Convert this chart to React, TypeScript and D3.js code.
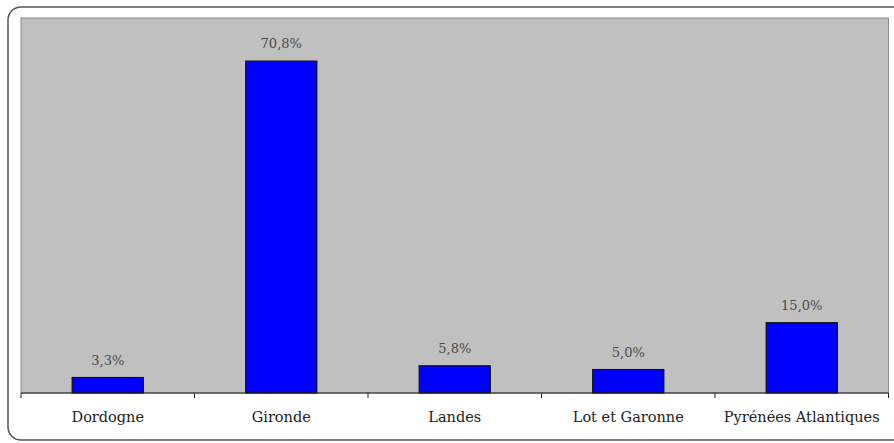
import React from "react";
import * as d3 from "d3";

const categories = ["Dordogne", "Gironde", "Landes", "Lot et Garonne", "Pyrénées Atlantiques"];
const values = [3.3, 70.8, 5.8, 5.0, 15.0];
const valueLabels = ["3,3%", "70,8%", "5,8%", "5,0%", "15,0%"];

export default function App() {
  const W = 894, H = 443;
  const left = 21, right = 888.5, top = 18, bottom = 393;
  const x = d3.scaleBand<string>().domain(categories).range([left, right]).paddingInner(0).paddingOuter(0);
  const y = d3.scaleLinear().domain([0, 80]).range([bottom, top]);
  const bw = x.bandwidth() * 0.41;
  const font = "'DejaVu Serif', 'Liberation Serif', serif";
  return (
    <svg width={W} height={H} style={{ position: "absolute", left: 0, top: 0, background: "#fff" }}>
      <rect x={8} y={7} width={905} height={433} rx={13} ry={13} fill="#fff" stroke="#555" strokeWidth={1.5} />
      <rect x={left} y={top} width={right - left} height={bottom - top} fill="#c0c0c0" stroke="#8a8a8a" strokeWidth={1} />
      {categories.map((c, i) => {
        const cx = (x(c) as number) + x.bandwidth() / 2;
        const yt = y(values[i]);
        return (
          <g key={c}>
            <rect x={cx - bw / 2} y={yt} width={bw} height={bottom - yt} fill="#0000ff" stroke="#111" strokeWidth={1.2} />
            <text x={cx} y={yt - 13} textAnchor="middle" fontFamily={font} fontSize={13} fill="#4a4a4a">{valueLabels[i]}</text>
            <text x={cx} y={422} textAnchor="middle" fontFamily={font} fontSize={14.5} fill="#222">{c}</text>
          </g>
        );
      })}
      <line x1={left} x2={right} y1={bottom} y2={bottom} stroke="#222" strokeWidth={1.2} />
      {[...categories.map((c) => x(c) as number), right].map((t, i) => (
        <line key={i} x1={t} x2={t} y1={bottom} y2={bottom + 5} stroke="#222" strokeWidth={1} />
      ))}
    </svg>
  );
}
